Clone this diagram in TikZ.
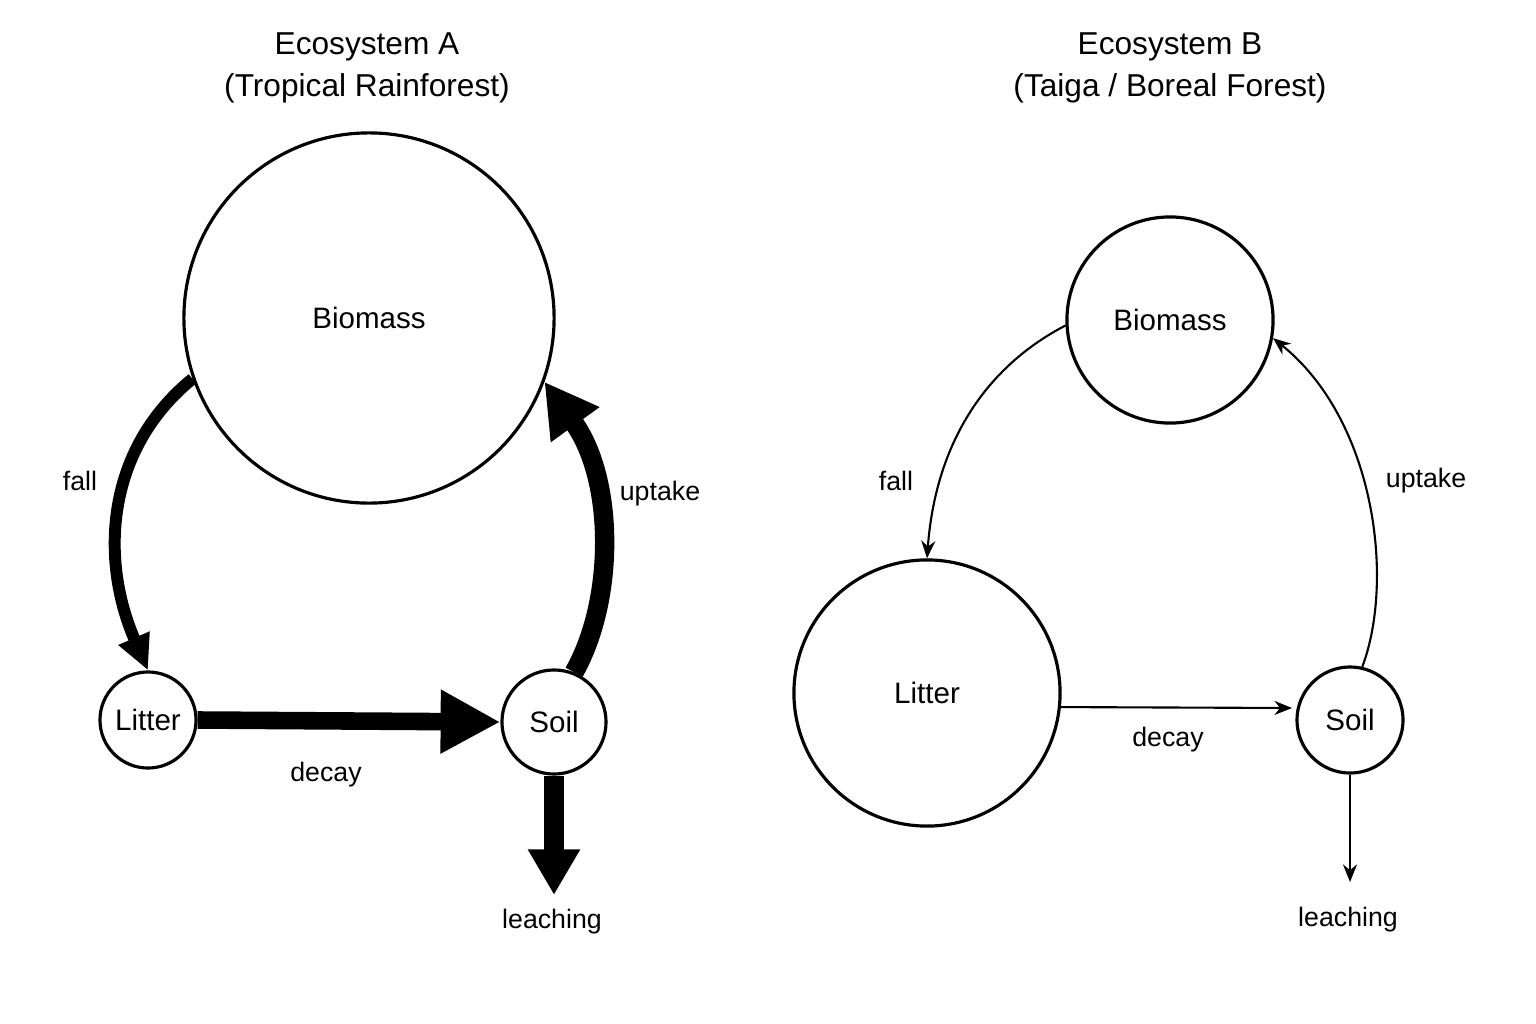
\documentclass[tikz,border=0pt]{standalone}
\usepackage{fontspec}
\setmainfont{Liberation Sans}
\usetikzlibrary{arrows.meta}
\begin{document}
\begin{tikzpicture}[x=0.01cm,y=-0.01cm]

\tikzset{pool/.style = {shape=circle,draw,line width=0.9pt,inner sep=0pt,font=\fontsize{8.4}{9}\selectfont}}
\tikzset{lbl/.style = {font=\fontsize{7.6}{8}\selectfont}}
\tikzset{ttl/.style = {font=\fontsize{9}{10}\selectfont,align=center}}
\tikzset{thin flow/.style = {-{Stealth[length=5pt,width=4pt]},line width=0.6pt}}
\useasboundingbox (0,0) rectangle (1536,1024);
%titles
\node[ttl] (tA) at (367,68) {Ecosystem A\\[0.4ex](Tropical Rainforest)};
\node[ttl] (tB) at (1170,68) {Ecosystem B\\[0.4ex](Taiga / Boreal Forest)};
%ecosystem A
\node[pool, minimum size=3.7cm] (bioA) at (369,318) {Biomass};
\node[pool, minimum size=0.96cm] (litA) at (148,720) {Litter};
\node[pool, minimum size=1.04cm] (soilA) at (554,722) {Soil};
\coordinate (leachA) at (554,895);
\draw[line width=3.4pt, -{Triangle[length=10pt,width=9pt]}] (bioA.199) .. controls (105,450) and (100,560) .. (litA.north);
\draw[line width=5pt, -{Triangle[length=17pt,width=17pt]}] (litA.east) -- (soilA.west);
\draw[line width=5.5pt, -{Triangle[length=15pt,width=16pt]}] (soilA.68) .. controls (615,600) and (615,480) .. (bioA.-20);
\draw[line width=5.5pt, -{Triangle[length=13pt,width=14pt]}] (soilA.south) -- (leachA);
\node[lbl] (fallA) at (80,481) {fall};
\node[lbl] (upA) at (660,494) {uptake};
\node[lbl] (decA) at (326,775) {decay};
\node[lbl] (leaA) at (552,922) {leaching};
%ecosystem B
\node[pool, minimum size=2.06cm] (bioB) at (1170,320) {Biomass};
\node[pool, minimum size=2.66cm] (litB) at (927,693) {Litter};
\node[pool, minimum size=1.06cm] (soilB) at (1350,720) {Soil};
\coordinate (leachB) at (1350,882);
\coordinate (decB) at (1292,708);
\draw[thin flow] (bioB.183) .. controls (980,370) and (935,450) .. (litB.north);
\draw[thin flow] (litB.-6) -- (decB);
\draw[thin flow] (soilB.77) .. controls (1395,580) and (1375,420) .. (bioB.-10);
\draw[thin flow] (soilB.south) -- (leachB);
\node[lbl] (fallB) at (896,481) {fall};
\node[lbl] (upB) at (1426,481) {uptake};
\node[lbl] (decBl) at (1168,740) {decay};
\node[lbl] (leaB) at (1348,920) {leaching};

\end{tikzpicture}
\end{document}
